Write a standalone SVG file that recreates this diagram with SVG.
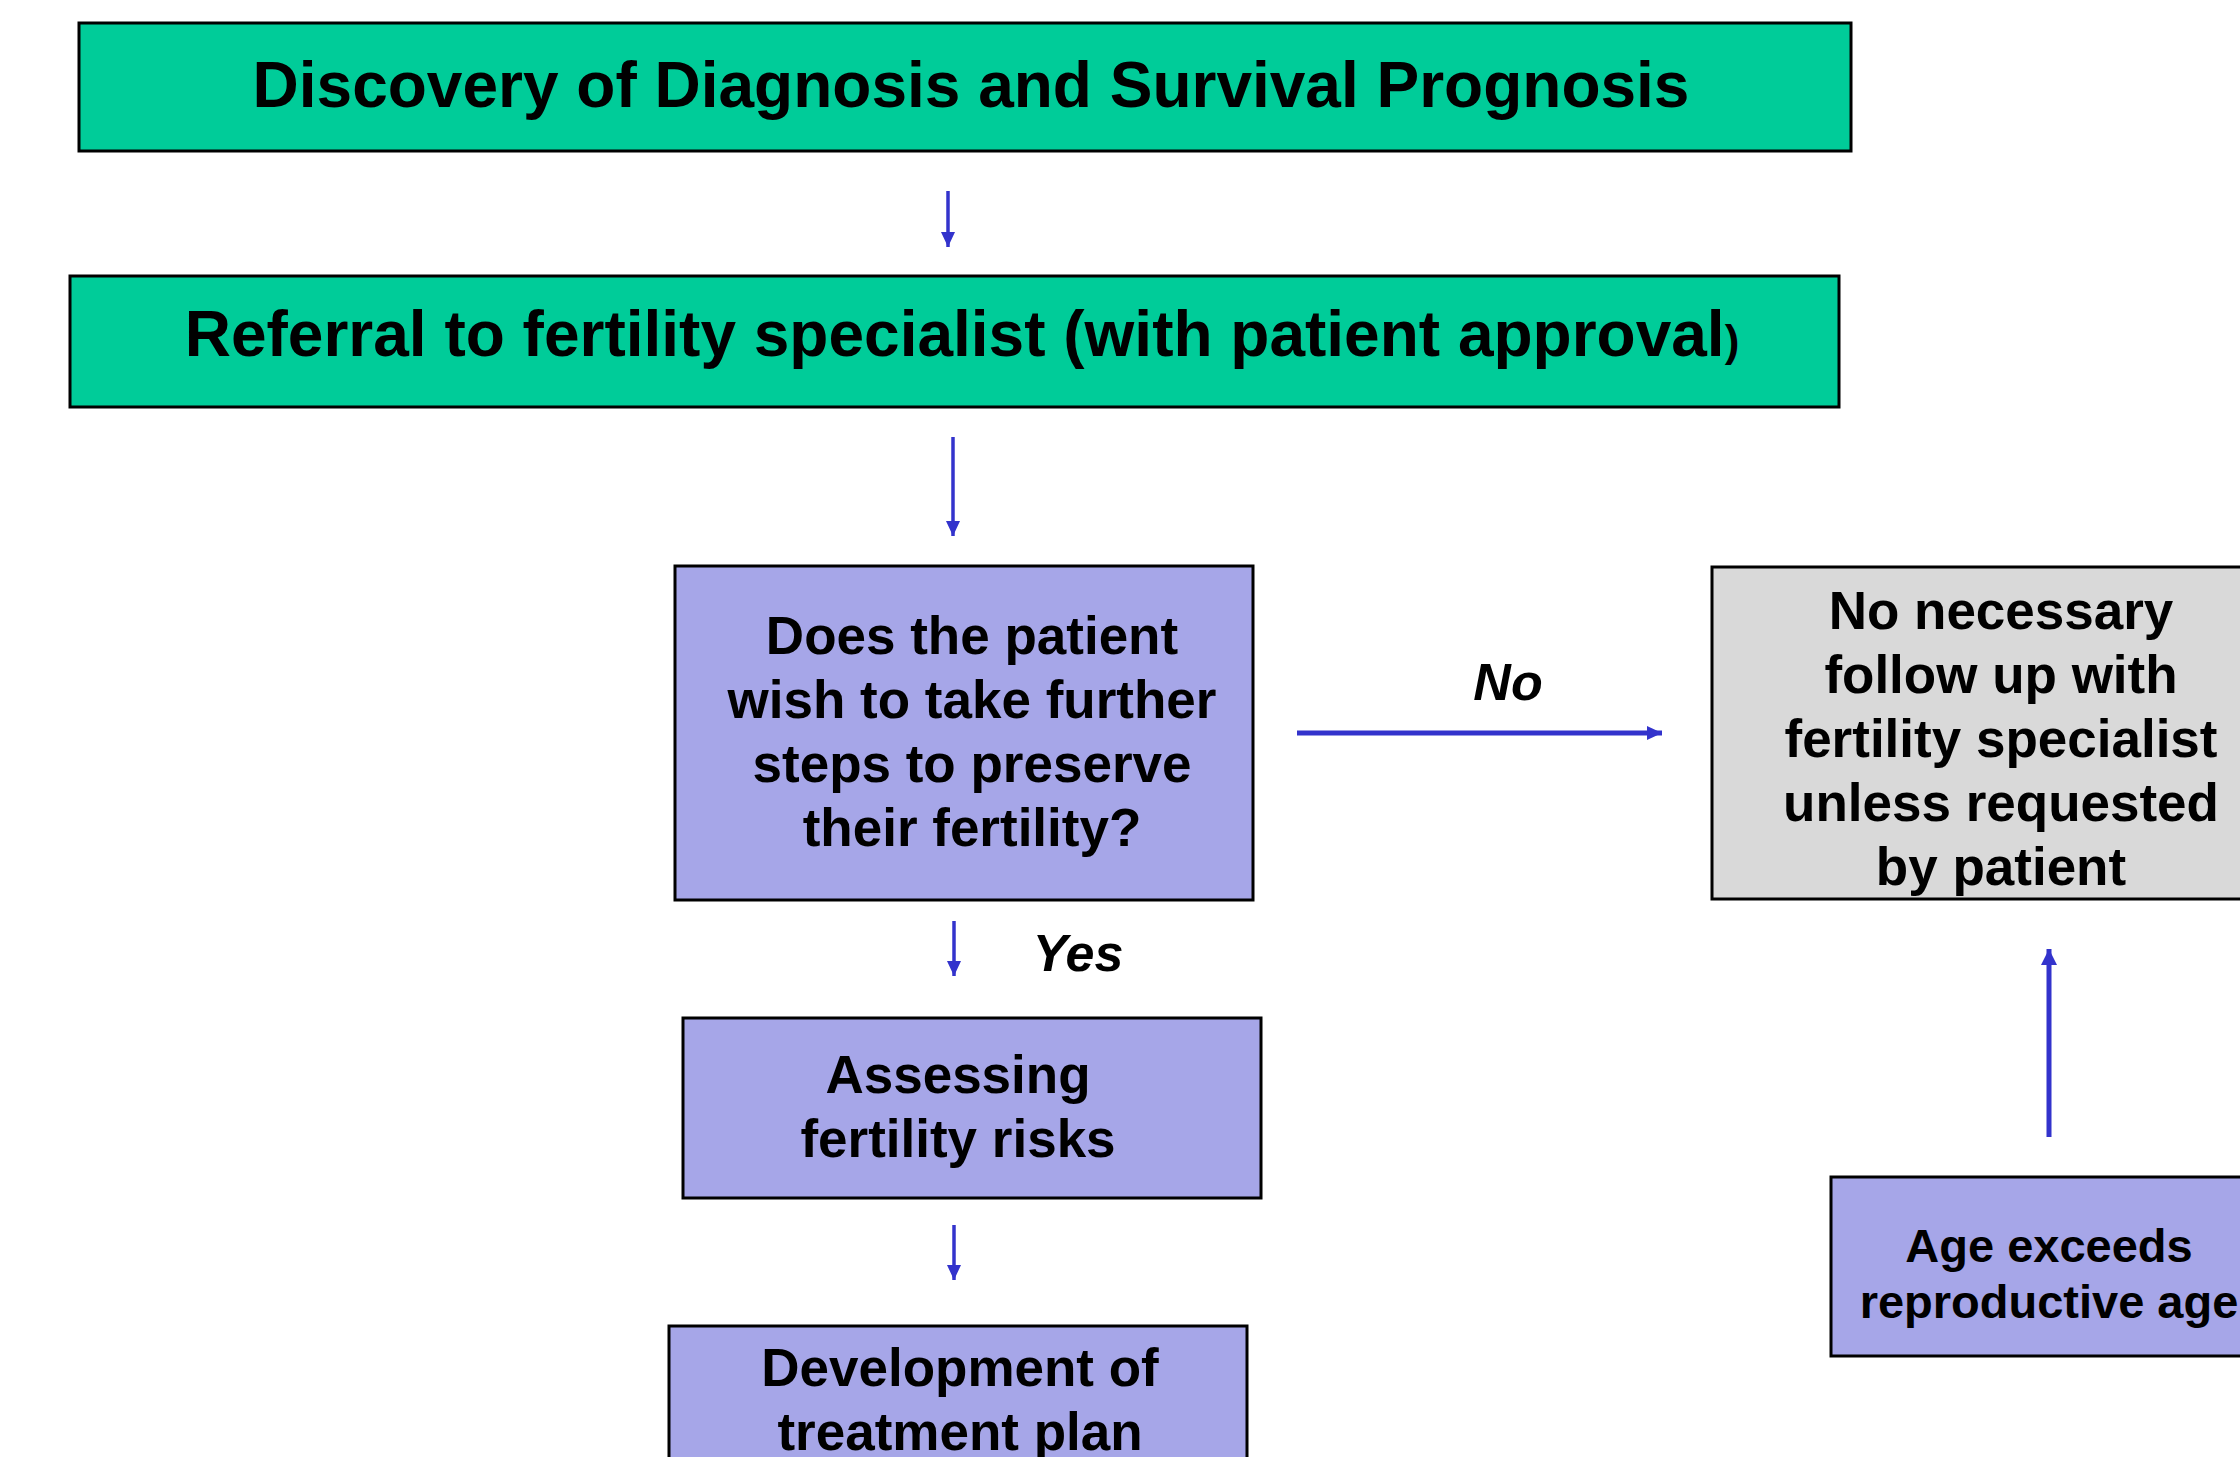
<svg xmlns="http://www.w3.org/2000/svg" width="2240" height="1457" viewBox="0 0 2240 1457">
<style>
.box{stroke:#000;stroke-width:3}
.green{fill:#00CC99}
.purple{fill:#A6A6E8}
.gray{fill:#D9D9D9}
text{font-family:"Liberation Sans",Arial,sans-serif;font-weight:bold;fill:#000;text-anchor:middle}
.t64{font-size:64px}
.t53{font-size:53px}
.t47{font-size:47px}
.lbl{font-size:52px;font-style:italic}
.conn{stroke:#3333CC;fill:none}
</style>
<defs>
<marker id="ah" markerUnits="userSpaceOnUse" markerWidth="15" markerHeight="14" refX="15" refY="7" orient="auto" viewBox="0 0 15 14">
<path d="M0,0 L15,7 L0,14 Z" fill="#3333CC"/>
</marker>
<marker id="ahBig" markerUnits="userSpaceOnUse" markerWidth="16" markerHeight="16" refX="16" refY="8" orient="auto" viewBox="0 0 16 16">
<path d="M0,0 L16,8 L0,16 Z" fill="#3333CC"/>
</marker>
</defs>

<g id="connectors">
<line class="conn" x1="948" y1="191" x2="948" y2="247" stroke-width="3.5" marker-end="url(#ah)"/>
<line class="conn" x1="953" y1="437" x2="953" y2="536" stroke-width="3.5" marker-end="url(#ah)"/>
<line class="conn" x1="954" y1="921" x2="954" y2="976" stroke-width="3.5" marker-end="url(#ah)"/>
<line class="conn" x1="954" y1="1225" x2="954" y2="1280" stroke-width="3.5" marker-end="url(#ah)"/>
<line class="conn" x1="1297" y1="733" x2="1662" y2="733" stroke-width="5" marker-end="url(#ah)"/>
<line class="conn" x1="2049" y1="1137" x2="2049" y2="949" stroke-width="5" marker-end="url(#ahBig)"/>
<text class="lbl" x="1508" y="700">No</text>
<text class="lbl" x="1078" y="971">Yes</text>
</g>

<g id="node-discovery">
<rect class="box green" x="79" y="23" width="1772" height="128"/>
<text class="t64" x="971" y="107">Discovery of Diagnosis and Survival Prognosis</text>
</g>

<g id="node-referral">
<rect class="box green" x="70" y="276" width="1769" height="131"/>
<text class="t64" x="962" y="356">Referral to fertility specialist (with patient approval<tspan font-size="44px">)</tspan></text>
</g>

<g id="node-decision">
<rect class="box purple" x="675" y="566" width="578" height="334"/>
<text class="t53" x="972" y="654">Does the patient</text>
<text class="t53" x="972" y="718">wish to take further</text>
<text class="t53" x="972" y="782">steps to preserve</text>
<text class="t53" x="972" y="846">their fertility?</text>
</g>

<g id="node-no-followup">
<rect class="box gray" x="1712" y="567" width="560" height="332"/>
<text class="t53" x="2001" y="629">No necessary</text>
<text class="t53" x="2001" y="693">follow up with</text>
<text class="t53" x="2001" y="757">fertility specialist</text>
<text class="t53" x="2001" y="821">unless requested</text>
<text class="t53" x="2001" y="885">by patient</text>
</g>

<g id="node-assessing">
<rect class="box purple" x="683" y="1018" width="578" height="180"/>
<text class="t53" x="958" y="1093">Assessing</text>
<text class="t53" x="958" y="1157">fertility risks</text>
</g>

<g id="node-development">
<rect class="box purple" x="669" y="1326" width="578" height="180"/>
<text class="t53" x="960" y="1386">Development of</text>
<text class="t53" x="960" y="1450">treatment plan</text>
</g>

<g id="node-age">
<rect class="box purple" x="1831" y="1177" width="440" height="179"/>
<text class="t47" x="2049" y="1262">Age exceeds</text>
<text class="t47" x="2049" y="1318">reproductive age</text>
</g>
</svg>
